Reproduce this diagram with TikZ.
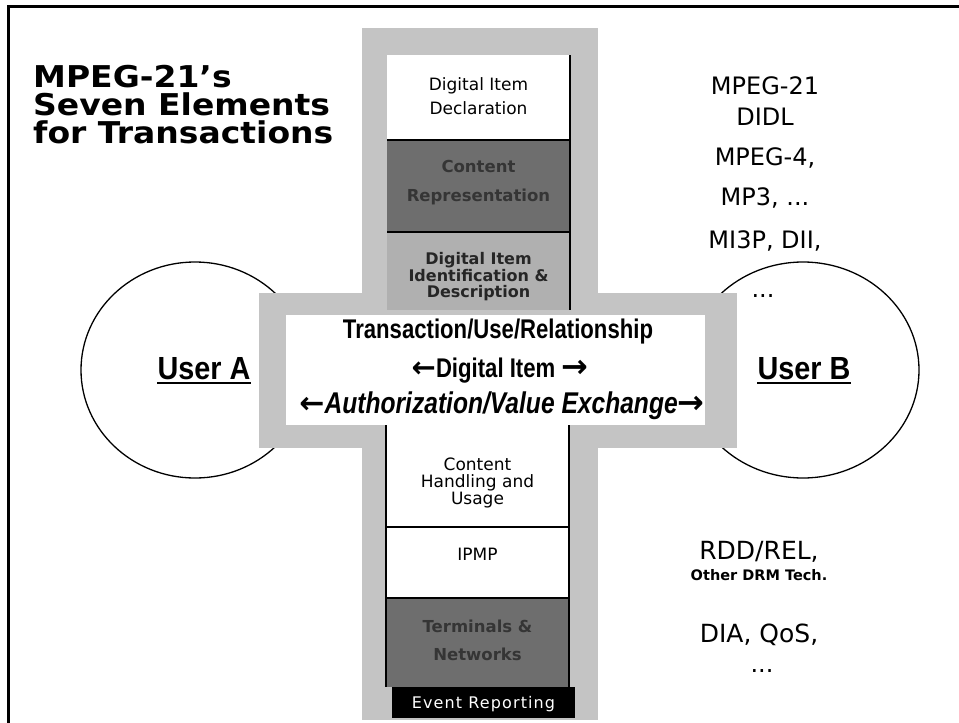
\documentclass[tikz,border=0pt]{standalone}
\usepackage{fontspec}
\setmainfont{DejaVu Sans}
\newfontfamily\verd{DejaVu Sans}
\newfontfamily\verdw[FakeStretch=1.1]{DejaVu Sans}
\newfontfamily\verdls[LetterSpace=7]{DejaVu Sans}
\newfontfamily\arialn[FakeStretch=0.82]{Liberation Sans}
\newfontfamily\arialu[FakeStretch=0.9]{Liberation Sans}
\newfontfamily\arrowfont{DejaVu Sans}
\usetikzlibrary{shapes.geometric}
\definecolor{bandgray}{HTML}{C4C4C4}
\definecolor{darkbox}{HTML}{6E6E6E}
\definecolor{darktext}{HTML}{353535}
\definecolor{midgray}{HTML}{B0B0B0}
\begin{document}
\begin{tikzpicture}[x=1pt,y=-1pt,
  boxfill/.style={rectangle, inner sep=0pt, outer sep=0pt},
  userell/.style={draw, ellipse, line width=1.3pt, inner sep=0pt},
  title/.style={anchor=base west, inner sep=0pt, font=\verdw\bfseries\fontsize{30}{30}\selectfont},
  rlabel/.style={anchor=base, inner sep=0pt, font=\verd\fontsize{24}{24}\selectfont},
  collabel/.style={align=center, inner sep=0pt, font=\verd\fontsize{17}{17}\selectfont},
  bandtext/.style={anchor=base, inner sep=0pt, font=\arialn\bfseries\fontsize{27}{27}\selectfont},
  usertext/.style={anchor=base, inner sep=0pt, font=\arialu\bfseries\fontsize{32}{32}\selectfont},
  sepline/.style={line width=1.2pt}]
\useasboundingbox (0,0) rectangle (959,723);
\fill[white] (0,0) rectangle (959,723);
% frame
\draw[line width=3pt] (8,723) -- (8,6) -- (959,6);
% user ellipses
\node[userell, minimum width=228pt, minimum height=216pt] (ellA) at (195,370) {};
\node[userell, minimum width=232pt, minimum height=216pt] (ellB) at (803,370) {};
% gray cross
\fill[bandgray] (362,28) rectangle (598,720);
\fill[bandgray] (259,293) rectangle (737,448);
% upper column boxes
\node[boxfill, fill=white, minimum width=183pt, minimum height=85pt] (did) at (478.5,97.5) {};
\node[boxfill, fill=darkbox, minimum width=183pt, minimum height=92pt] (cr) at (478.5,186) {};
\node[boxfill, fill=midgray, minimum width=183pt, minimum height=78pt] (dii) at (478.5,271) {};
\draw[sepline] (cr.north west) -- (cr.north east);
\draw[sepline] (dii.north west) -- (dii.north east);
\draw[line width=1.6pt] (did.north east) -- (dii.south east);
% center white box
\node[boxfill, fill=white, minimum width=419pt, minimum height=110pt] (cen) at (495.5,370) {};
% lower column boxes
\node[boxfill, fill=white, minimum width=183pt, minimum height=102pt] (chu) at (477.5,476) {};
\node[boxfill, fill=white, minimum width=183pt, minimum height=71pt] (ipmp) at (477.5,562.5) {};
\node[boxfill, fill=darkbox, minimum width=183pt, minimum height=89pt] (tn) at (477.5,642.5) {};
\node[boxfill, fill=black, minimum width=183pt, minimum height=31pt] (er) at (483.5,702.5) {};
\draw[sepline] (chu.north west) -- (tn.south west);
\draw[sepline] (chu.north east) -- (tn.south east);
\draw[sepline] (ipmp.north west) -- (ipmp.north east);
\draw[sepline] (tn.north west) -- (tn.north east);
% column texts
\node[collabel] (didt) at (478.5,96) {Digital Item\\[7pt]Declaration};
\node[collabel, text=darktext, font=\verd\bfseries\fontsize{16.5}{29}\selectfont] (crt) at (478.5,183) {Content\\Representation};
\node[collabel, text=black!85, font=\verd\bfseries\fontsize{16}{16.5}\selectfont] (diit) at (478.5,277) {Digital Item\\Identification \&\\Description};
\node[collabel] (chut) at (477.5,483) {Content\\Handling and\\Usage};
\node[collabel, anchor=base] (ipmpt) at (477.5,560) {IPMP};
\node[collabel, text=darktext, font=\verd\bfseries\fontsize{16.5}{28}\selectfont] (tnt) at (477.5,640) {Terminals \&\\Networks};
\node[anchor=base, inner sep=0pt, text=white, font=\verdls\fontsize{16}{16}\selectfont] (ert) at (483.5,708) {Event Reporting};
% band texts
\node[bandtext] (b1) at (498,338) {Transaction/Use/Relationship};
\node[bandtext] (b2) at (500,377) {{\arrowfont\fontsize{29}{29}\selectfont ←}Digital Item {\arrowfont\bfseries\fontsize{32}{32}\selectfont →}};
\node[bandtext, font=\arialn\bfseries\itshape\fontsize{30}{30}\selectfont] (b3) at (502,413) {{\arrowfont\upshape\fontsize{30}{30}\selectfont ←}Authorization/Value Exchange{\arrowfont\upshape\bfseries\fontsize{32}{32}\selectfont →}};
% user labels
\node[usertext] (ua) at (204,379) {User A};
\node[usertext] (ub) at (804,379) {User B};
\draw[line width=2pt] ([yshift=-4pt]ua.base west) -- ([yshift=-4pt]ua.base east);
\draw[line width=2pt] ([yshift=-4pt]ub.base west) -- ([yshift=-4pt]ub.base east);
% title
\node[title] (t1) at (33,87) {MPEG-21’s};
\node[title] (t2) at (33,115) {Seven Elements};
\node[title] (t3) at (33,143) {for Transactions};
% right labels
\node[rlabel] (r1) at (765,94) {MPEG-21};
\node[rlabel] (r2) at (765,125) {DIDL};
\node[rlabel] (r3) at (765,165) {MPEG-4,};
\node[rlabel] (r4) at (765,205) {MP3, ...};
\node[rlabel] (r5) at (765,248) {MI3P, DII,};
\node[rlabel] (r6) at (763,297) {...};
\node[rlabel, font=\verd\fontsize{25}{25}\selectfont] (r7) at (759,559) {RDD/REL,};
\node[anchor=base, inner sep=0pt, font=\verd\bfseries\fontsize{14.5}{14.5}\selectfont] (r8) at (759,580) {Other DRM Tech.};
\node[rlabel, font=\verd\fontsize{25}{25}\selectfont] (r9) at (759,642) {DIA, QoS,};
\node[rlabel] (r10) at (762,672) {...};
\end{tikzpicture}
\end{document}
